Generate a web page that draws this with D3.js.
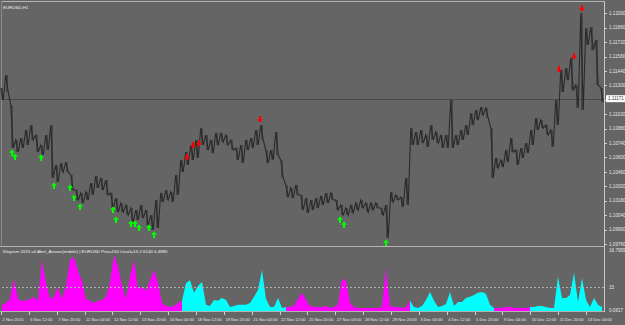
<!DOCTYPE html>
<html>
<head>
<meta charset="utf-8">
<script src="https://cdn.jsdelivr.net/npm/d3@7"></script>
<style>
  body { margin: 0; background: #656565; }
  svg { display: block; font-family: "Liberation Sans", Arial, sans-serif; }
</style>
</head>
<body>
<div id="chart"></div>
<script>
// price bars (high / low per bar)
var highs = [1.11275,1.11401,1.11109,1.10770,1.10789,1.10867,1.10915,1.10818,1.10721,1.10818,
  1.10915,1.10527,1.10546,1.10556,1.10430,1.10284,1.10255,1.10265,1.10352,1.10420,
  1.10401,1.10381,1.10255,1.10206,1.10158,1.10138,1.10109,1.10090,1.10138,1.10090,
  1.10041,1.10187,1.10255,1.10284,1.10265,1.10430,1.10575,1.10653,1.10721,1.10770,
  1.10886,1.10818,1.10770,1.10838,1.10838,1.10818,1.10770,1.10692,1.10721,1.10770,
  1.10789,1.10867,1.10915,1.10672,1.10672,1.10847,1.10575,1.10333,1.10304,1.10333,
  1.10236,1.10206,1.10187,1.10206,1.10226,1.10255,1.10255,1.10187,1.10138,1.10109,
  1.10138,1.10158,1.10187,1.10158,1.10158,1.10158,1.10109,1.10138,1.10265,1.10236,
  1.10216,1.10401,1.10886,1.10847,1.10867,1.10818,1.10915,1.10847,1.10818,1.10818,
  1.11158,1.10818,1.10867,1.10915,1.11032,1.11061,1.11090,1.11080,1.10886,1.10595,
  1.10575,1.10672,1.10789,1.10672,1.10692,1.10740,1.10867,1.10983,1.10964,1.10915,
  1.10867,1.11158,1.11449,1.11469,1.11566,1.11304,1.12003,1.11857,1.11867,1.11741,
  1.11275];
var lows = [1.11158,1.11236,1.10692,1.10653,1.10692,1.10721,1.10770,1.10653,1.10624,1.10672,
  1.10401,1.10362,1.10459,1.10459,1.10284,1.10187,1.10158,1.10187,1.10236,1.10304,
  1.10284,1.10236,1.10109,1.10070,1.10070,1.10041,1.09973,1.09993,1.10012,1.09944,
  1.09896,1.09915,1.10168,1.10187,1.10168,1.10236,1.10459,1.10527,1.10575,1.10595,
  1.10721,1.10672,1.10643,1.10721,1.10750,1.10721,1.10672,1.10575,1.10546,1.10672,
  1.10692,1.10721,1.10770,1.10546,1.10575,1.10624,1.10401,1.10216,1.10206,1.10236,
  1.10090,1.10061,1.10090,1.10109,1.10138,1.10158,1.10187,1.10090,1.10041,1.10041,
  1.10061,1.10090,1.10109,1.10070,1.10090,1.10109,1.10041,1.09818,1.10168,1.10187,
  1.10119,1.10138,1.10721,1.10721,1.10740,1.10702,1.10770,1.10740,1.10692,1.10692,
  1.10692,1.10721,1.10770,1.10818,1.10915,1.10964,1.11012,1.10983,1.10401,1.10498,
  1.10507,1.10556,1.10653,1.10527,1.10595,1.10643,1.10721,1.10867,1.10886,1.10818,
  1.10702,1.10915,1.11236,1.11352,1.11255,1.11080,1.11061,1.11692,1.11643,1.11304,
  1.11139];

// signal arrows: bar index + price
var buyArrows = [[2.0,1.10643],[2.6,1.10605],[7.8,1.10595],[10.4,1.10323],[13.6,1.10304],
  [14.4,1.10206],[15.6,1.10119],[22.2,1.10090],[22.8,1.09993],[25.8,1.09954],[26.6,1.09954],
  [27.4,1.09915],[29.4,1.09915],[30.4,1.09847],[67.6,1.09993],[68.4,1.09944],[76.8,1.09770]];
var sellArrows = [[37.0,1.10605],[38.2,1.10721],[39.4,1.10740],[51.6,1.10974],
  [111.4,1.11459],[114.4,1.11585],[116.0,1.12051]];

var currentPrice = 1.11171;
var priceMin = 1.0976, priceMax = 1.12, priceStep = 0.0014;

// indicator histogram
var indicator = [1.7,2.2,3.3,8.8,3.3,2.8,2.8,3.3,3.9,2.8,
  14.0,7.7,3.3,3.9,6.6,3.3,6.9,14.0,14.9,11.0,
  8.3,3.3,2.8,2.2,2.8,3.0,3.9,7.7,15.4,12.1,
  6.9,3.3,9.6,14.0,6.1,6.6,5.5,8.3,11.3,7.7,
  2.2,1.4,1.1,1.4,2.2,2.8,7.7,8.5,5.0,6.9,
  8.0,1.7,1.4,3.0,2.8,3.6,3.0,1.1,1.4,1.7,
  1.7,1.7,2.2,3.9,5.8,11.3,3.3,1.1,1.1,3.6,
  0.8,1.1,1.1,1.4,3.3,5.0,3.0,1.4,1.1,1.1,
  1.1,1.4,0.8,1.1,1.7,8.8,8.3,2.2,1.1,0.8,
  0.8,0.8,0.8,0.8,0.8,1.1,11.8,1.4,1.1,1.1,
  0.8,1.1,2.8,1.1,0.8,1.4,3.0,5.2,2.8,1.1,
  1.4,1.9,5.2,1.4,2.5,2.5,3.6,3.9,4.4,5.0,
  5.2,4.7,1.7,0.8,0.8,0.8,1.1,1.1,0.8,0.8,
  0.8,0.8,1.1,1.1,1.4,1.4,1.1,0.8,0.8,9.4,
  3.6,3.6,4.4,10.5,2.5,9.1,3.0,1.1,3.6,1.7,
  1.1];
// runs of the same colour: [first index, last index, direction]
var indicatorRuns = [[0,44,"down"],[45,70,"up"],[71,101,"down"],[102,122,"up"],[123,131,"down"],[132,150,"up"]];
var indicatorMax = 16.7959, indicatorMin = 0.0817;
var levelValue = 6.6, levelLabel = "15";

var timeLabels = ["2 Nov 2015","6 Nov 12:00","7 Nov 20:00","11 Nov 04:00","12 Nov 12:00","13 Nov 20:00",
  "16 Nov 04:00","18 Nov 12:00","19 Nov 20:00","21 Nov 04:00","22 Nov 12:00","25 Nov 20:00",
  "27 Nov 04:00","28 Nov 12:00","29 Nov 20:00","3 Dec 04:00","4 Dec 12:00","5 Dec 20:00",
  "9 Dec 04:00","10 Dec 12:00","11 Dec 20:00","13 Dec 04:00"];
var barsPerLabel = 5.572;

var width = 625, height = 325;
var plotRight = 604;

var svg = d3.select("#chart").append("svg")
    .attr("width", width)
    .attr("height", height);

svg.append("rect").attr("width", width).attr("height", height).attr("fill", "#656565");

// scales
var x = d3.scaleLinear().domain([0, highs.length - 1]).range([2, 602]);
var y = d3.scaleLinear().domain([priceMin, priceMax]).range([244, 13.3]);
var xi = d3.scaleLinear().domain([0, indicator.length - 1]).range([2, 602]);
var yi = d3.scaleLinear().domain([0, indicatorMax]).range([311, 250]);

// frames
svg.append("line").attr("x1", 1.5).attr("x2", plotRight + 0.5).attr("y1", 1.5).attr("y2", 1.5)
   .attr("stroke", "#b4b4b4");
svg.append("line").attr("x1", 1.5).attr("x2", 1.5).attr("y1", 1.5).attr("y2", 245)
   .attr("stroke", "#8a8a8a");
svg.append("line").attr("x1", 0).attr("x2", plotRight).attr("y1", 246.5).attr("y2", 246.5)
   .attr("stroke", "#b4b4b4");
svg.append("line").attr("x1", 0).attr("x2", plotRight).attr("y1", 311.5).attr("y2", 311.5)
   .attr("stroke", "#b4b4b4");
svg.append("line").attr("x1", plotRight + 0.5).attr("x2", plotRight + 0.5).attr("y1", 1).attr("y2", 312)
   .attr("stroke", "#c8c8c8");

// current price line
svg.append("line").attr("x1", 2).attr("x2", plotRight)
   .attr("y1", Math.round(y(currentPrice)) + 0.5).attr("y2", Math.round(y(currentPrice)) + 0.5)
   .attr("stroke", "#4a4a4a");

// price: each bar as a saw-tooth from its high to its low
var bars = highs.map(function(h, i) { return {i: i, high: h, low: lows[i]}; });
var pts = [];
bars.forEach(function(d) {
  pts.push([x(d.i) - 1.25, y(d.high)]);
  pts.push([x(d.i), y((d.high + d.low) / 2)]);
  pts.push([x(d.i) + 1.25, y(d.low)]);
});
svg.append("path").attr("d", d3.line()(pts))
   .attr("fill", "none").attr("stroke", "#2a2a2a").attr("stroke-width", 1.1)
   .attr("stroke-linejoin", "miter");
svg.selectAll(".bar").data(bars).enter().append("line")
    .attr("class", "bar")
    .attr("x1", function(d) { return x(d.i); })
    .attr("x2", function(d) { return x(d.i); })
    .attr("y1", function(d) { return y(d.low); })
    .attr("y2", function(d) { return y(d.high); })
    .attr("stroke", "#2a2a2a").attr("stroke-width", 1);

// arrows
function arrowPath(cx, cy, dir) {
  var s = dir; // 1 = up, -1 = down
  return "M" + cx + "," + (cy - 3.5 * s) +
    "L" + (cx + 3) + "," + (cy - 0.3 * s) +
    "L" + (cx + 1) + "," + (cy - 0.3 * s) +
    "L" + (cx + 1) + "," + (cy + 3 * s) +
    "L" + (cx - 1) + "," + (cy + 3 * s) +
    "L" + (cx - 1) + "," + (cy - 0.3 * s) +
    "L" + (cx - 3) + "," + (cy - 0.3 * s) + "Z";
}
svg.selectAll(".buy").data(buyArrows).enter().append("path")
    .attr("class", "buy")
    .attr("d", function(d) { return arrowPath(x(d[0]), y(d[1]), 1); })
    .attr("fill", "#00ff00");
svg.selectAll(".sell").data(sellArrows).enter().append("path")
    .attr("class", "sell")
    .attr("d", function(d) { return arrowPath(x(d[0]), y(d[1]), -1); })
    .attr("fill", "#ff0000");

// price axis
var priceTicks = d3.range(0, Math.round((priceMax - priceMin) / priceStep) + 1)
    .map(function(k) { return priceMin + k * priceStep; });
var fmt = d3.format(".5f");
var pa = svg.append("g").attr("class", "price-axis");
pa.selectAll("line").data(priceTicks).enter().append("line")
    .attr("x1", plotRight).attr("x2", plotRight + 3)
    .attr("y1", function(d) { return Math.round(y(d)) + 0.5; })
    .attr("y2", function(d) { return Math.round(y(d)) + 0.5; })
    .attr("stroke", "#d0d0d0");
pa.selectAll("text").data(priceTicks).enter().append("text")
    .attr("x", plotRight + 5)
    .attr("y", function(d) { return y(d) + 1.6; })
    .attr("font-size", "4.6px").attr("fill", "#e6e6e6")
    .text(function(d) { return fmt(d); });

// current price tag
svg.append("rect").attr("x", plotRight + 2).attr("y", y(currentPrice) - 3.5)
   .attr("width", 19).attr("height", 7).attr("fill", "#ffffff");
svg.append("text").attr("x", plotRight + 4).attr("y", y(currentPrice) + 1.6)
   .attr("font-size", "4.6px").attr("fill", "#333").text(fmt(currentPrice));

// titles
svg.append("text").attr("x", 3).attr("y", 8.5).attr("font-size", "4.4px").attr("fill", "#f0f0f0")
   .text("EURUSD,H1");
svg.append("text").attr("x", 3).attr("y", 252.5).attr("font-size", "4.4px").attr("fill", "#f0f0f0")
   .text("Kloyerm 2015 v4 Alert_Arrows(mobile) | EURUSD Peri=150 Level=15 2.6140 0.4985");

// indicator histogram, one area per colour run
var runColor = {down: "#ff00ff", up: "#00ffff"};
var histArea = d3.area()
    .x(function(d) { return xi(d.j); })
    .y0(yi(0))
    .y1(function(d) { return yi(d.v); });
svg.selectAll(".hist").data(indicatorRuns).enter().append("path")
    .attr("class", "hist")
    .attr("d", function(r) {
      var seg = d3.range(r[0], Math.min(r[1] + 1, indicator.length - 1) + 1)
          .map(function(j) { return {j: j, v: indicator[j]}; });
      return histArea(seg);
    })
    .attr("fill", function(r) { return runColor[r[2]]; });

// level line
svg.append("line").attr("x1", 2).attr("x2", plotRight)
   .attr("y1", Math.round(yi(levelValue)) + 0.5).attr("y2", Math.round(yi(levelValue)) + 0.5)
   .attr("stroke", "#b0b0b0").attr("stroke-dasharray", "2,2");

// indicator axis labels
var indLabels = [[indicatorMax, "16.7959"], [levelValue, levelLabel], [indicatorMin, fmt(indicatorMin).slice(0, 6)]];
svg.selectAll(".ind-label").data(indLabels).enter().append("text")
    .attr("class", "ind-label")
    .attr("x", plotRight + 5)
    .attr("y", function(d) { return yi(d[0]) + 1.6; })
    .attr("font-size", "4.6px").attr("fill", "#e6e6e6")
    .text(function(d) { return d[1]; });

// time axis
var ta = svg.append("g").attr("class", "time-axis");
ta.selectAll("line").data(timeLabels).enter().append("line")
    .attr("x1", function(d, k) { return Math.round(x(k * barsPerLabel - 0.2)) + 0.5; })
    .attr("x2", function(d, k) { return Math.round(x(k * barsPerLabel - 0.2)) + 0.5; })
    .attr("y1", 312).attr("y2", 315)
    .attr("stroke", "#d0d0d0");
ta.selectAll("text").data(timeLabels).enter().append("text")
    .attr("x", function(d, k) { return x(k * barsPerLabel - 0.2) + 1.5; })
    .attr("y", 320.5)
    .attr("font-size", "4.1px").attr("fill", "#e6e6e6")
    .text(function(d) { return d; });
</script>
</body>
</html>
